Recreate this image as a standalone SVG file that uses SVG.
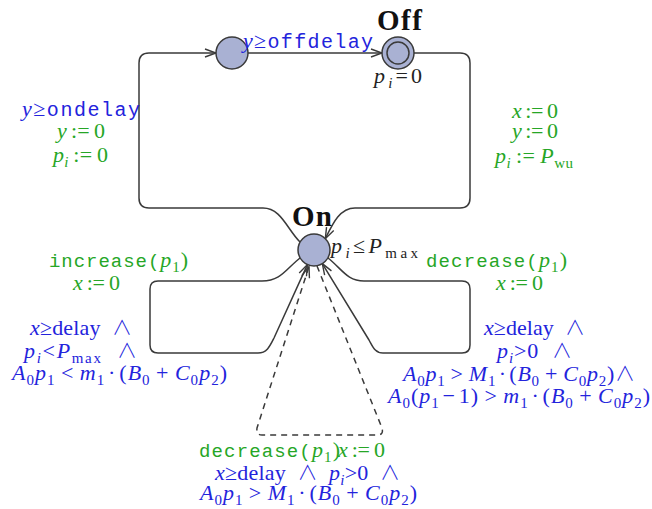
<svg xmlns="http://www.w3.org/2000/svg" width="652" height="509" viewBox="0 0 652 509">
<defs>
<style>
.m{font-family:"Liberation Serif","DejaVu Serif",serif;font-size:22px}
.i{font-style:italic}
.s{font-size:15px}
.tt{font-family:"Liberation Mono","DejaVu Sans Mono",monospace;font-size:19px;font-style:normal}
.tw{font-size:20px}
.w{font-family:"Noto Sans CJK SC","DejaVu Serif",sans-serif;font-weight:300;font-size:20px}
.bd{font-family:"Liberation Serif","DejaVu Serif",serif;font-size:29px;font-weight:bold;fill:#111}
.b{fill:#2323dc}
.g{fill:#26a626}
.k{fill:#222}
.node{fill:#a9b1d3;stroke:#3a3a3a;stroke-width:1.5}
.e{fill:none;stroke:#3a3a3a;stroke-width:1.5}
.d{stroke-dasharray:6 5}
</style>
<marker id="a" markerWidth="14" markerHeight="10" refX="12" refY="5" orient="auto" markerUnits="userSpaceOnUse">
<path d="M1,1 L12,5 L1,9" fill="none" stroke="#3a3a3a" stroke-width="1.4"/>
</marker>
</defs>
<rect width="652" height="509" fill="#fff"/>

<g id="connectors">
<path class="e" marker-end="url(#a)" d="M300 242 C287 229 281 208 263 208 H149 Q139 208 139 198 V63 Q139 53 149 53 H216"/>
<path class="e" marker-end="url(#a)" d="M248 53 H382"/>
<path class="e" marker-end="url(#a)" d="M414 53 H460 Q470 53 470 63 V198 Q470 208 460 208 H355 C340 208 333 223 325.3 238.7"/>
<path class="e" marker-end="url(#a)" d="M300 258 C286 269 281 281 262 281 H158 Q150 281 150 289 V345 Q150 353 158 353 H258 C267 353 270 346 274 338 L307.4 264.6"/>
<path class="e" marker-end="url(#a)" d="M328 258 C342 269 347 281 364 281 H462 Q470 281 470 289 V345 Q470 353 462 353 H383 C375 353 373 347 369 340 L322.3 263.6"/>
<path class="e d" marker-end="url(#a)" d="M317 266 L382 428 Q384 435 377 435 H262 Q256 435 257 428 L309 266.5"/>
</g>

<g id="node-wait">
<circle class="node" cx="232" cy="53" r="16"/>
</g>

<g id="node-off">
<circle class="node" cx="398" cy="53" r="16"/>
<circle class="node" cx="398" cy="53" r="11"/>
<text class="bd" x="377" y="30" textLength="45">Off</text>
<text class="m k" x="374" y="83" textLength="48"><tspan class="i">p</tspan><tspan class="s i" dy="5">i</tspan><tspan dy="-5">=0</tspan></text>
</g>

<g id="node-on">
<circle class="node" cx="314" cy="250" r="16"/>
<text class="bd" x="292" y="226" textLength="40">On</text>
<text class="m k" x="331" y="253" textLength="87"><tspan class="i">p</tspan><tspan class="s i" dy="5">i</tspan><tspan dy="-5">≤</tspan><tspan class="i">P</tspan><tspan class="s" dy="5">max</tspan></text>
</g>

<g id="labels">
<text class="m b" x="22" y="116" textLength="118"><tspan class="i">y</tspan>≥<tspan class="tt tw">ondelay</tspan></text>
<text class="m g" x="57" y="138" textLength="48"><tspan class="i">y</tspan>&#8201;:=&#8201;0</text>
<text class="m g" x="53" y="162" textLength="55"><tspan class="i">p</tspan><tspan class="s i" dy="5">i</tspan><tspan dy="-5">&#8201;:=&#8201;0</tspan></text>

<text class="m b" x="243" y="48" textLength="130"><tspan class="i">y</tspan>≥<tspan class="tt tw">offdelay</tspan></text>

<text class="m g" x="512" y="118" textLength="46"><tspan class="i">x</tspan>&#8201;:=&#8201;0</text>
<text class="m g" x="512" y="138" textLength="46"><tspan class="i">y</tspan>&#8201;:=&#8201;0</text>
<text class="m g" x="495" y="163" textLength="78"><tspan class="i">p</tspan><tspan class="s i" dy="5">i</tspan><tspan dy="-5">&#8201;:=&#8201;</tspan><tspan class="i">P</tspan><tspan class="s" dy="5">wu</tspan></text>

<text class="m g" x="49" y="267" textLength="139"><tspan class="tt">increase(</tspan><tspan class="i">p</tspan><tspan class="s" dy="5">1</tspan><tspan dy="-5">)</tspan></text>
<text class="m g" x="73" y="290" textLength="47"><tspan class="i">x</tspan>&#8201;:=&#8201;0</text>
<text class="m b" x="30" y="335" textLength="102"><tspan class="i">x</tspan>≥delay&#160;&#160;<tspan class="w">∧</tspan></text>
<text class="m b" x="24" y="358" textLength="113"><tspan class="i">p</tspan><tspan class="s i" dy="5">i</tspan><tspan dy="-5">&lt;</tspan><tspan class="i">P</tspan><tspan class="s" dy="5">max</tspan><tspan dy="-5">&#160;&#160;</tspan><tspan class="w">∧</tspan></text>
<text class="m b" x="12" y="380" textLength="215"><tspan class="i">A</tspan><tspan class="s" dy="5">0</tspan><tspan class="i" dy="-5">p</tspan><tspan class="s" dy="5">1</tspan><tspan dy="-5">&#8201;&lt;&#8201;</tspan><tspan class="i">m</tspan><tspan class="s" dy="5">1</tspan><tspan dy="-5">&#8202;·&#8202;(</tspan><tspan class="i">B</tspan><tspan class="s" dy="5">0</tspan><tspan dy="-5">&#8201;+&#8201;</tspan><tspan class="i">C</tspan><tspan class="s" dy="5">0</tspan><tspan class="i" dy="-5">p</tspan><tspan class="s" dy="5">2</tspan><tspan dy="-5">)</tspan></text>

<text class="m g" x="426" y="267" textLength="141"><tspan class="tt">decrease(</tspan><tspan class="i">p</tspan><tspan class="s" dy="5">1</tspan><tspan dy="-5">)</tspan></text>
<text class="m g" x="496" y="290" textLength="47"><tspan class="i">x</tspan>&#8201;:=&#8201;0</text>
<text class="m b" x="484" y="335" textLength="101"><tspan class="i">x</tspan>≥delay&#160;&#160;<tspan class="w">∧</tspan></text>
<text class="m b" x="497" y="358" textLength="75"><tspan class="i">p</tspan><tspan class="s i" dy="5">i</tspan><tspan dy="-5">&gt;0&#160;&#160;</tspan><tspan class="w">∧</tspan></text>
<text class="m b" x="403" y="381" textLength="232"><tspan class="i">A</tspan><tspan class="s" dy="5">0</tspan><tspan class="i" dy="-5">p</tspan><tspan class="s" dy="5">1</tspan><tspan dy="-5">&#8201;&gt;&#8201;</tspan><tspan class="i">M</tspan><tspan class="s" dy="5">1</tspan><tspan dy="-5">&#8202;·&#8202;(</tspan><tspan class="i">B</tspan><tspan class="s" dy="5">0</tspan><tspan dy="-5">&#8201;+&#8201;</tspan><tspan class="i">C</tspan><tspan class="s" dy="5">0</tspan><tspan class="i" dy="-5">p</tspan><tspan class="s" dy="5">2</tspan><tspan dy="-5">)</tspan><tspan class="w">∧</tspan></text>
<text class="m b" x="388" y="403" textLength="262"><tspan class="i">A</tspan><tspan class="s" dy="5">0</tspan><tspan dy="-5">(</tspan><tspan class="i">p</tspan><tspan class="s" dy="5">1</tspan><tspan dy="-5">&#8202;−&#8202;1)&#8201;&gt;&#8201;</tspan><tspan class="i">m</tspan><tspan class="s" dy="5">1</tspan><tspan dy="-5">&#8202;·&#8202;(</tspan><tspan class="i">B</tspan><tspan class="s" dy="5">0</tspan><tspan dy="-5">&#8201;+&#8201;</tspan><tspan class="i">C</tspan><tspan class="s" dy="5">0</tspan><tspan class="i" dy="-5">p</tspan><tspan class="s" dy="5">2</tspan><tspan dy="-5">)</tspan></text>

<text class="m g" x="199" y="457" textLength="141"><tspan class="tt">decrease(</tspan><tspan class="i">p</tspan><tspan class="s" dy="5">1</tspan><tspan dy="-5">)</tspan></text>
<text class="m g" x="338" y="457" textLength="47"><tspan class="i">x</tspan>&#8201;:=&#8201;0</text>
<text class="m b" x="215" y="480" textLength="185"><tspan class="i">x</tspan>≥delay&#160;&#160;<tspan class="w">∧</tspan>&#160;&#160;<tspan class="i">p</tspan><tspan class="s i" dy="5">i</tspan><tspan dy="-5">&gt;0&#160;&#160;</tspan><tspan class="w">∧</tspan></text>
<text class="m b" x="200" y="500" textLength="217"><tspan class="i">A</tspan><tspan class="s" dy="5">0</tspan><tspan class="i" dy="-5">p</tspan><tspan class="s" dy="5">1</tspan><tspan dy="-5">&#8201;&gt;&#8201;</tspan><tspan class="i">M</tspan><tspan class="s" dy="5">1</tspan><tspan dy="-5">&#8202;·&#8202;(</tspan><tspan class="i">B</tspan><tspan class="s" dy="5">0</tspan><tspan dy="-5">&#8201;+&#8201;</tspan><tspan class="i">C</tspan><tspan class="s" dy="5">0</tspan><tspan class="i" dy="-5">p</tspan><tspan class="s" dy="5">2</tspan><tspan dy="-5">)</tspan></text>
</g>
</svg>
